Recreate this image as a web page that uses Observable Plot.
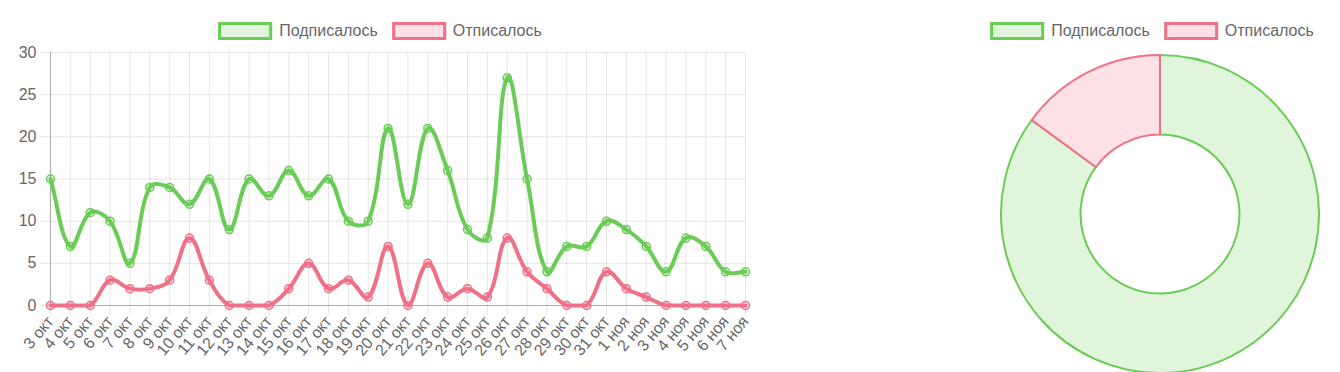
<!DOCTYPE html>
<html><head><meta charset="utf-8">
<script src="https://cdn.jsdelivr.net/npm/d3@7"></script>
<script src="https://cdn.jsdelivr.net/npm/@observablehq/plot@0.6"></script>
<style>
body{margin:0;background:#fff;font-family:"Liberation Sans",Arial,sans-serif;}
#wrap{position:relative;width:1340px;height:372px;overflow:hidden;background:#fff;}
#line{position:absolute;left:0;top:0;}
#donut{position:absolute;left:980px;top:0;}
.legend{position:absolute;top:22px;display:flex;align-items:center;font-size:16px;color:#666;transform:translateX(-50%);white-space:nowrap;}
.legend .item{display:flex;align-items:center;margin:0 7px;}
.legend .sw{box-sizing:border-box;width:54px;height:18px;border:3px solid;margin-right:7px;}
</style>
</head><body>
<div id="wrap">
  <div id="line"></div>
  <div id="donut"></div>
  <div class="legend" id="leg1" style="left:380px"></div>
  <div class="legend" id="leg2" style="left:1152px"></div>
</div>
<script>
// ---- data ----
const labels = ["3 окт","4 окт","5 окт","6 окт","7 окт","8 окт","9 окт","10 окт","11 окт","12 окт",
  "13 окт","14 окт","15 окт","16 окт","17 окт","18 окт","19 окт","20 окт","21 окт","22 окт",
  "23 окт","24 окт","25 окт","26 окт","27 окт","28 окт","29 окт","30 окт","31 окт",
  "1 ноя","2 ноя","3 ноя","4 ноя","5 ноя","6 ноя","7 ноя"];
const subscribed = [15,7,11,10,5,14,14,12,15,9,15,13,16,13,15,10,10,21,12,21,16,9,8,27,15,4,7,7,10,9,7,4,8,7,4,4];
const unsubscribed = [0,0,0,3,2,2,3,8,3,0,0,0,2,5,2,3,1,7,0,5,1,2,1,8,4,2,0,0,4,2,1,0,0,0,0,0];
const seriesNames = ["Подписалось","Отписалось"];
const yTicks = [0,5,10,15,20,25,30];

// ---- styles / layout ----
const strokeColors = ["rgb(106,204,86)","rgb(240,112,136)"];
const fillColors = ["rgb(225,245,221)","rgb(253,225,230)"];
const W = 760, H = 372, ML = 50, MR = 15, MT = 52, MB = 67;

// spline like Chart.js (tension 0.4, control points capped to the plot area)
function splineCurve(tension, x0, x1, y0, y1) {
  return function(context) {
    let pts = [];
    const cap = (p) => [Math.max(x0, Math.min(x1, p[0])), Math.max(y0, Math.min(y1, p[1]))];
    return {
      areaStart(){}, areaEnd(){},
      lineStart(){ pts = []; },
      point(x, y){ pts.push([+x, +y]); },
      lineEnd(){
        const n = pts.length;
        if (!n) return;
        const cps = pts.map((p, i) => {
          const prev = pts[i-1] || p, next = pts[i+1] || p;
          const d01 = Math.hypot(p[0]-prev[0], p[1]-prev[1]);
          const d12 = Math.hypot(next[0]-p[0], next[1]-p[1]);
          let s01 = d01/(d01+d12), s12 = d12/(d01+d12);
          if (isNaN(s01)) s01 = 0; if (isNaN(s12)) s12 = 0;
          const fa = tension*s01, fb = tension*s12;
          return {
            prev: cap([p[0]-fa*(next[0]-prev[0]), p[1]-fa*(next[1]-prev[1])]),
            next: cap([p[0]+fb*(next[0]-prev[0]), p[1]+fb*(next[1]-prev[1])])
          };
        });
        context.moveTo(pts[0][0], pts[0][1]);
        for (let i = 1; i < n; i++) {
          context.bezierCurveTo(cps[i-1].next[0], cps[i-1].next[1], cps[i].prev[0], cps[i].prev[1], pts[i][0], pts[i][1]);
        }
      }
    };
  };
}
const curve = splineCurve(0.4, ML, W - MR, MT, H - MB);

const seriesValues = [subscribed, unsubscribed];
const rowsFor = k => labels.map((d,i)=>({date:d, value:seriesValues[k][i], series:seriesNames[k]}));

const seriesMarks = [];
for (const k of [1,0]) {
  const rows = rowsFor(k);
  seriesMarks.push(Plot.line(rows,{x:"date",y:"value",stroke:strokeColors[k],strokeWidth:4,curve}));
  seriesMarks.push(Plot.dot(rows,{x:"date",y:"value",r:4,stroke:strokeColors[k],strokeWidth:1.5,fill:strokeColors[k],fillOpacity:0.2}));
}

const linePlot = Plot.plot({
  width:W, height:H,
  marginLeft:ML, marginRight:MR, marginTop:MT, marginBottom:MB,
  style:{fontFamily:"'Liberation Sans', Arial, sans-serif", fontSize:"16px", color:"#666", background:"transparent"},
  x:{type:"point", domain:labels, padding:0},
  y:{domain:[0,30]},
  marks:[
    Plot.gridX({stroke:"#000", strokeOpacity:0.1}),
    Plot.gridY(yTicks,{stroke:"#000", strokeOpacity:0.1}),
    Plot.axisY(yTicks,{tickSize:10, tickPadding:4, stroke:"#000", strokeOpacity:0.1, fill:"#666", fontSize:16, label:null}),
    Plot.axisX({tickSize:10, tickPadding:3, tickRotate:-50, stroke:"#000", strokeOpacity:0.1, fill:"#666", fontSize:16, label:null}),
    Plot.ruleX([labels[0]],{stroke:"#000", strokeOpacity:0.25}),
    Plot.ruleY([0],{stroke:"#000", strokeOpacity:0.25}),
    ...seriesMarks
  ]
});
document.getElementById("line").appendChild(linePlot);

// ---- donut ----
const totals = seriesValues.map(v => d3.sum(v));
const donutPlot = Plot.plot({
  width:360, height:372,
  marginLeft:21, marginRight:21, marginTop:55, marginBottom:0,
  style:{background:"transparent"},
  marks:[
    (index, scales, values, dim) => {
      const r = (dim.width - dim.marginLeft - dim.marginRight)/2;
      const cx = dim.marginLeft + r, cy = dim.marginTop + r;
      const arcs = d3.pie().sort(null)(totals);
      const arc = d3.arc().outerRadius(r).innerRadius(r*0.5);
      const g = d3.create("svg:g").attr("transform",`translate(${cx},${cy})`);
      g.selectAll("path").data(arcs).join("path")
        .attr("d", arc)
        .attr("fill", (d,i)=>fillColors[i])
        .attr("stroke", (d,i)=>strokeColors[i])
        .attr("stroke-width", 2)
        .attr("stroke-linejoin","round");
      return g.node();
    }
  ]
});
document.getElementById("donut").appendChild(donutPlot);

// ---- legends ----
for (const id of ["leg1","leg2"]) {
  const el = document.getElementById(id);
  seriesNames.forEach((name,k)=>{
    const item = document.createElement("div"); item.className="item";
    const sw = document.createElement("div"); sw.className="sw";
    sw.style.borderColor = strokeColors[k]; sw.style.background = fillColors[k];
    const tx = document.createElement("span"); tx.textContent = name;
    item.appendChild(sw); item.appendChild(tx); el.appendChild(item);
  });
}
</script>
</body></html>
